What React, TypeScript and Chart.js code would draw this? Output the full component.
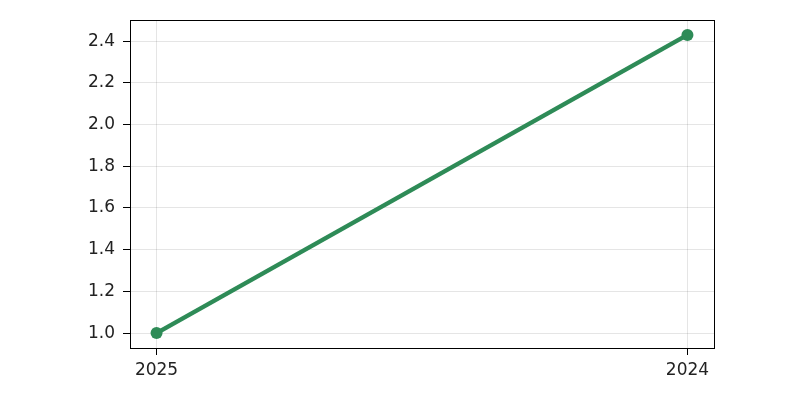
import { useEffect, useRef } from 'react';
import { Chart, registerables } from 'chart.js';

Chart.register(...registerables);

const years = ['2025', '2024'];
const values = [1.0, 2.43];
const yTicks = [1.0, 1.2, 1.4, 1.6, 1.8, 2.0, 2.2, 2.4];

const lineColor = '#2e8b57';
const textColor = '#222222';

// black frame round the plot area, like a matplotlib axes box
const framePlugin = {
  id: 'frame',
  afterDraw(chart: any) {
    const { ctx, chartArea } = chart;
    ctx.save();
    ctx.strokeStyle = '#000000';
    ctx.lineWidth = 1;
    ctx.strokeRect(chartArea.left + 0.5, chartArea.top + 0.5, chartArea.right - chartArea.left, chartArea.bottom - chartArea.top);
    ctx.restore();
  }
};

export default function App() {
  const canvasRef = useRef<HTMLCanvasElement>(null);

  useEffect(() => {
    document.body.style.margin = '0';
    if (!canvasRef.current) return;
    const span = values[1] - values[0];
    const chart = new Chart(canvasRef.current, {
      type: 'line',
      data: {
        datasets: [
          {
            data: values.map((v, i) => ({ x: i, y: v })),
            borderColor: lineColor,
            backgroundColor: lineColor,
            borderWidth: 4.5,
            pointRadius: 6,
            pointBackgroundColor: lineColor,
            pointBorderWidth: 0,
            tension: 0
          }
        ]
      },
      options: {
        responsive: false,
        animation: false,
        layout: { padding: { top: 20, right: 86, left: 0, bottom: 0 } },
        plugins: { legend: { display: false }, tooltip: { enabled: false } },
        scales: {
          x: {
            type: 'linear',
            min: -0.05,
            max: 1.05,
            afterBuildTicks: (axis: any) => {
              axis.ticks = years.map((_, i) => ({ value: i }));
            },
            afterFit: (axis: any) => {
              axis.height = 52;
            },
            ticks: {
              color: textColor,
              font: { family: 'DejaVu Sans', size: 17 },
              padding: 5,
              maxRotation: 0,
              callback: (v: any) => years[v] ?? ''
            },
            grid: { color: 'rgba(0,0,0,0.1)', tickColor: '#000000', tickLength: 7, drawTicks: true },
            border: { display: false }
          },
          y: {
            type: 'linear',
            min: values[0] - span * 0.05,
            max: values[1] + span * 0.05,
            afterBuildTicks: (axis: any) => {
              axis.ticks = yTicks.map((v) => ({ value: v }));
            },
            afterFit: (axis: any) => {
              axis.width = 130;
            },
            ticks: {
              color: textColor,
              font: { family: 'DejaVu Sans', size: 17 },
              padding: 8,
              callback: (v: any) => Number(v).toFixed(1)
            },
            grid: { color: 'rgba(0,0,0,0.1)', tickColor: '#000000', tickLength: 7, drawTicks: true },
            border: { display: false }
          }
        }
      },
      plugins: [framePlugin]
    });
    return () => chart.destroy();
  }, []);

  return (
    <div style={{ width: 800, height: 400, background: '#ffffff' }}>
      <canvas ref={canvasRef} width={800} height={400}></canvas>
    </div>
  );
}
